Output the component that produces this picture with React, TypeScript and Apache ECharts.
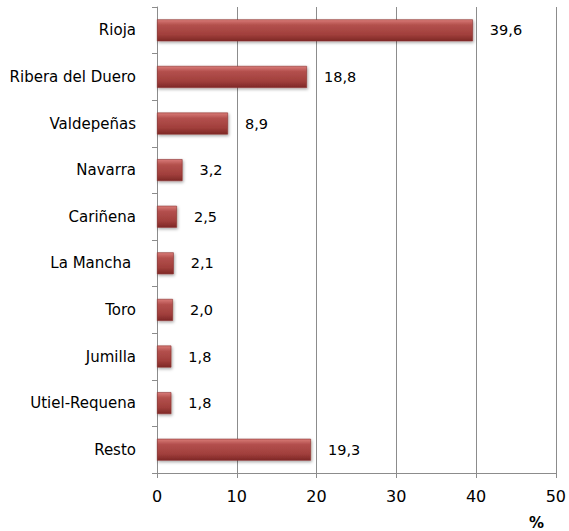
import React, { useEffect, useRef } from "react";
import * as echarts from "echarts";

const categories = [
  "Rioja",
  "Ribera del Duero",
  "Valdepeñas",
  "Navarra",
  "Cariñena",
  "La Mancha ",
  "Toro",
  "Jumilla",
  "Utiel-Requena",
  "Resto",
];
const values = [39.6, 18.8, 8.9, 3.2, 2.5, 2.1, 2.0, 1.8, 1.8, 19.3];
const xTicks = [0, 10, 20, 30, 40, 50];
const unitLabel = "%";

export default function App() {
  const ref = useRef<HTMLDivElement>(null);
  useEffect(() => {
    if (!ref.current) return;
    const chart = echarts.init(ref.current, null, { renderer: "svg" });
    const font = "DejaVu Sans";
    chart.setOption({
      animation: false,
      grid: { left: 157, right: 11, top: 7, bottom: 58, containLabel: false },
      xAxis: {
        type: "value",
        min: xTicks[0],
        max: xTicks[xTicks.length - 1],
        interval: 10,
        axisLine: { show: true, lineStyle: { color: "#8c8c8c", width: 1 } },
        axisTick: { show: true, length: 5, lineStyle: { color: "#8c8c8c" } },
        splitLine: { show: true, lineStyle: { color: "#8c8c8c", width: 1 } },
        axisLabel: { color: "#000", fontFamily: font, fontSize: 16, margin: 15 },
      },
      yAxis: {
        type: "category",
        data: categories,
        inverse: true,
        axisLine: { show: true, lineStyle: { color: "#8c8c8c", width: 1 } },
        axisTick: { show: true, length: 5, lineStyle: { color: "#8c8c8c" } },
        axisLabel: { color: "#000", fontFamily: font, fontSize: 15, margin: 21 },
      },
      graphic: [
        {
          type: "text",
          left: 529,
          top: 515,
          style: { text: unitLabel, fill: "#000", font: `bold 15px ${font}` },
        },
      ],
      series: [
        {
          type: "bar",
          data: values,
          barWidth: "47%",
          itemStyle: {
            color: new echarts.graphic.LinearGradient(0, 0, 0, 1, [
              { offset: 0, color: "#d97b78" },
              { offset: 0.25, color: "#b3504d" },
              { offset: 0.7, color: "#a13f3c" },
              { offset: 1, color: "#7e2826" },
            ]),
            borderColor: "#8a2f2d",
            borderWidth: 0.6,
            shadowColor: "rgba(0,0,0,0.35)",
            shadowBlur: 3,
            shadowOffsetX: 1,
            shadowOffsetY: 1.5,
          },
          label: {
            show: true,
            position: "right",
            distance: 17,
            color: "#000",
            fontFamily: font,
            fontSize: 14.5,
            formatter: (p: any) => p.value.toFixed(1).replace(".", ","),
          },
        },
      ],
    });
    return () => chart.dispose();
  }, []);
  return <div ref={ref} style={{ width: 569, height: 531, position: "absolute", left: 0, top: 0 }} />;
}
